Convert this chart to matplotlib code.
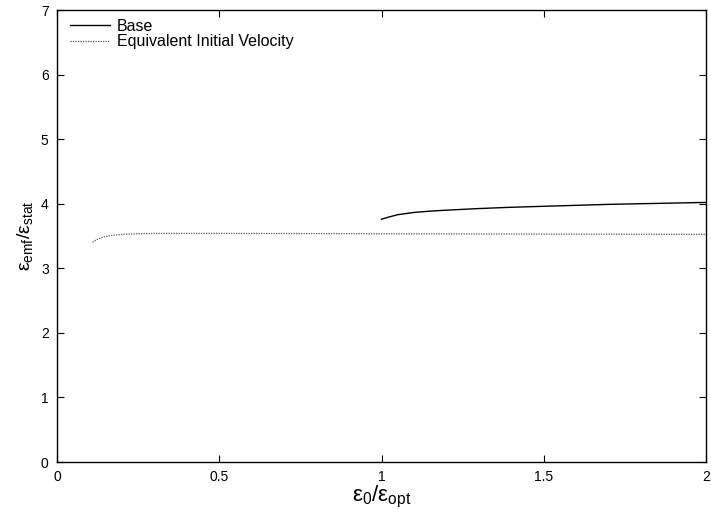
import matplotlib
matplotlib.use("Agg")
import matplotlib.pyplot as plt

plt.rcParams['font.family'] = ['Liberation Sans', 'DejaVu Sans']
plt.rcParams['mathtext.fontset'] = 'custom'
plt.rcParams['mathtext.rm'] = 'Liberation Sans'

# Base curve (starts at eps0/eps_opt = 1)
base_x = [1.0, 1.02, 1.05, 1.1, 1.15, 1.2, 1.3, 1.4, 1.5, 1.6, 1.7, 1.8, 1.9, 2.0]
base_y = [3.76, 3.79, 3.83, 3.865, 3.885, 3.90, 3.925, 3.945, 3.96, 3.975, 3.99, 4.0, 4.01, 4.02]

# Equivalent initial velocity curve
eq_x = [0.11, 0.12, 0.14, 0.17, 0.2, 0.25, 0.3, 0.4, 0.5, 0.75, 1.0, 1.25, 1.5, 1.75, 2.0]
eq_y = [3.40, 3.44, 3.48, 3.51, 3.525, 3.535, 3.54, 3.54, 3.54, 3.538, 3.535, 3.532, 3.53, 3.527, 3.525]

xticks = [0, 0.5, 1, 1.5, 2]
xticklabels = ['0', '0.5', '1', '1.5', '2']
yticks = [0, 1, 2, 3, 4, 5, 6, 7]

fig = plt.figure(figsize=(7.11, 5.13), dpi=100)
ax = fig.add_axes([57/711, 1 - 462/513, 649/711, 452/513])

ax.plot(base_x, base_y, color='black', linewidth=1.0, label='Base')
ax.plot(eq_x, eq_y, color='#555555', linewidth=0.9, linestyle=(0, (1, 1)),
        label='Equivalent Initial Velocity')

ax.set_xlim(0, 2)
ax.set_ylim(0, 7)
ax.set_xticks(xticks)
ax.set_xticklabels(xticklabels)
ax.set_yticks(yticks)
ax.tick_params(direction='in', length=5, width=0.8, top=True, right=True,
               labelsize=10, pad=6)
for s in ax.spines.values():
    s.set_linewidth(1.0)

ax.set_xlabel(r'$\mathregular{ε_0/ε_{opt}}$', fontsize=16, labelpad=0)
ax.set_ylabel(r'$\mathregular{ε_{emf}/ε_{stat}}$', fontsize=14, labelpad=4)

ax.legend(loc='upper left', frameon=False, fontsize=11.5, handlelength=2.5,
          handletextpad=0.45, labelspacing=0.05, borderaxespad=0.0,
          bbox_to_anchor=(0.01, 0.995))

fig.savefig('out.png', dpi=100)
